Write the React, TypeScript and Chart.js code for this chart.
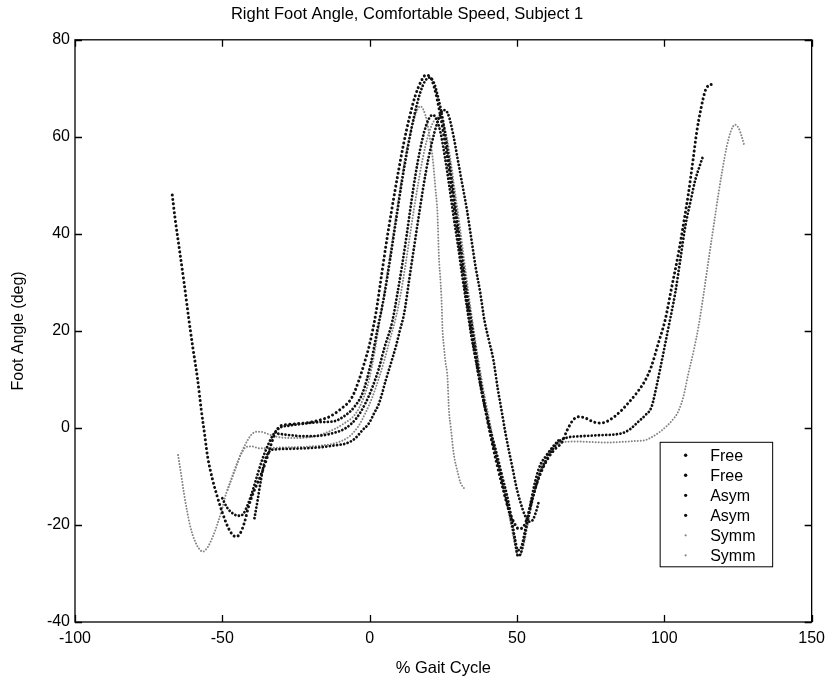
import React, { useEffect, useRef } from 'react';
import { Chart, registerables } from 'chart.js';

Chart.register(...registerables);

const TITLE = 'Right Foot Angle, Comfortable Speed, Subject 1';
const X_LABEL = '% Gait Cycle';
const Y_LABEL = 'Foot Angle (deg)';
const X_MIN = -100;
const X_MAX = 150;
const X_STEP = 50;
const Y_MIN = -40;
const Y_MAX = 80;
const Y_STEP = 20;

const SERIES_LABELS = ['Free', 'Free', 'Asym', 'Asym', 'Symm', 'Symm'];

const freeA: [number, number][] = [
  [-67, 48], [-66, 43], [-64.5, 36.5], [-63, 30], [-61.5, 23], [-60, 16.5], [-58.5, 10.5], [-57.2, 4],
  [-56, -1.4], [-55, -5.9], [-53.3, -10.7], [-51.7, -14.2], [-49.9, -17.6], [-48.2, -20.3], [-46.8, -21.8],
  [-45.5, -22.4], [-44, -21.8], [-42.5, -19.5], [-41, -16], [-39.1, -12.8], [-36.9, -9.7], [-35, -6.5],
  [-33.5, -3.5], [-32, -1], [-30.5, 0.3], [-28, 0.7], [-24, 0.9], [-20, 1.2], [-16, 1.8], [-13.7, 2.3],
  [-10, 3.8], [-6, 6.3], [-3.6, 9.9], [-1.5, 14], [-0.2, 16.8], [2.1, 23.6], [3.8, 30.5], [5.5, 37.5],
  [7.5, 45], [9.5, 52], [11.5, 58.5], [13.5, 64], [15.5, 68.5], [17.5, 71.5], [19, 72.7], [20.5, 72.4],
  [22, 70], [23.5, 66], [25, 61], [27, 53], [29, 44], [31, 35], [33, 26], [35, 18], [37, 11], [39, 4.5],
  [41, -1.5], [43, -7], [45, -12], [47, -16.5], [49, -19.5], [50.6, -20.8], [52, -20.5], [53.5, -18.5],
  [55, -15], [57, -11], [59, -8], [61, -5.8], [63, -4.3], [65.2, -3], [67, -0.5], [69, 1.6], [71, 2.3],
  [73, 2.1], [75, 1.5], [77.7, 1], [80, 1.2], [83, 2.3], [85.6, 3.7], [88, 5.3], [91, 7.5], [93.6, 9.9],
  [95.5, 12.5], [98, 17.5], [100.3, 22.3], [102.5, 29], [104.8, 36], [106.5, 42], [108.2, 48.4],
  [109.7, 55], [111, 61], [112.5, 66], [113.9, 69.5], [115, 70.6], [115.8, 70.8], [116.7, 70.4],
];

const freeB: [number, number][] = [
  [-50, -14.5], [-48.5, -16.3], [-46.5, -17.6], [-44.5, -18.1], [-43, -17.8], [-41.5, -16], [-40, -13.5],
  [-38.5, -10.5], [-36.5, -6.6], [-34.5, -3.5], [-32.5, -1.2], [-30.6, 0], [-27, 0.5], [-22, 0.9],
  [-17, 1.2], [-12.7, 1.3], [-8, 2.7], [-5, 4.5], [-2.4, 7.2], [0.4, 13.3], [2.6, 20.2], [4.9, 27.1],
  [7, 35], [9, 43], [11, 51], [13, 58], [15, 64], [17, 68.8], [18.8, 71.5], [20.3, 72.2], [21.7, 71.3],
  [23.3, 68], [25, 63], [27, 55], [29, 46], [31, 37], [33, 28], [35, 20], [37, 12], [39, 5], [41, -0.5],
  [43, -5], [45, -10], [47, -15], [48.5, -20], [49.5, -24], [50.3, -26.4], [51.3, -25.8], [52.5, -22.5],
  [54, -18], [56, -13], [58, -9], [60, -6.5], [62, -4.5], [64.2, -2.8], [67, -2], [72, -1.7], [78, -1.5],
  [85.6, -1.1], [88.5, -0.2], [91, 1.2], [93.5, 2.6], [95.7, 4.4], [97.5, 9], [99.2, 14], [101.5, 21],
  [103.7, 27.8], [105.5, 35], [107.1, 41.5], [109, 47], [110.5, 51.1], [112, 54], [113.3, 56.3],
];

const asymA: [number, number][] = [
  [-39.1, -18.6], [-38, -14.8], [-36.9, -10.7], [-36, -7.8], [-35, -5.8], [-33.5, -4.6], [-31.8, -4.4],
  [-27, -4.3], [-22, -4.2], [-17, -4], [-12, -3.6], [-8, -3.2], [-5, -2.2], [-2.5, -0.5], [-0.2, 1],
  [1.5, 3], [3.2, 5.1], [5.5, 9.9], [7.2, 13.3], [8.9, 16.8], [10.3, 20.2], [11.7, 23.6], [13.4, 30.5],
  [15, 37], [17, 45], [19, 52.5], [21, 58.5], [23, 63], [24.5, 65.2], [25.6, 65.5], [27, 64], [28.5, 60],
  [30, 55], [31.5, 50], [33, 45], [34.5, 39], [36, 33], [37.5, 28], [39, 22], [40.5, 18], [42, 14],
  [43.5, 8], [44.8, 3.5], [46.1, -1.1], [47.3, -4.8], [48.5, -8.3], [49.5, -11.4], [51, -15], [52.9, -18.3],
  [54.2, -19.3], [55.3, -19], [56.5, -17.2], [57.5, -15],
];

const asymB: [number, number][] = [
  [-31, -1.2], [-27, -1.5], [-22, -1.7], [-17, -1.6], [-12, -1], [-8, 0], [-4.5, 2], [-1.5, 5], [1, 8.5],
  [3, 12], [5, 16.5], [7.7, 22], [9.5, 28], [11, 33.5], [12.5, 39.5], [14, 46], [15.5, 52], [17, 57],
  [18.5, 61], [20, 63.6], [21.3, 64.5], [22.6, 63.8], [24, 61], [25.5, 56], [27, 50], [28.5, 43.5],
  [30, 37.5], [31.5, 31], [33, 25], [34.5, 19], [36, 14], [37.5, 9], [39, 4.5], [40.5, 0.5], [42, -3.5],
  [43.5, -7], [45, -11], [46.5, -15], [48, -19], [49.2, -22.5], [50.3, -25.2], [51.5, -24.5], [52.8, -21],
  [54.3, -16.5], [56.3, -10.7], [58, -7.5], [59.7, -5.9], [62, -4], [64.2, -2.5],
];

const symmA: [number, number][] = [
  [-65, -5.6], [-64, -9.5], [-63, -13.5], [-62, -17], [-60.8, -20.5], [-59.5, -23], [-58, -24.8],
  [-56.6, -25.5], [-55, -24.6], [-53.3, -22.5], [-51.6, -19.7], [-50, -16.5], [-48.7, -13.5], [-46.5, -10],
  [-45, -7.5], [-43.6, -5.2], [-41.4, -2.5], [-40, -1.3], [-38.5, -0.8], [-36.8, -0.8], [-35.2, -1.1],
  [-31.8, -1.8], [-25, -2.1], [-19.4, -1.8], [-14, -0.8], [-9, 0.8], [-4.7, 3], [-2.2, 6], [-0.2, 9.9],
  [1.5, 15], [3, 20.5], [4.5, 26], [6, 32], [7.5, 38], [9, 44], [10.5, 50], [12, 55.5], [13.5, 60],
  [15, 63.5], [16.2, 65.6], [17.2, 66.3], [18.3, 65.5], [19.5, 63], [20.5, 59.5], [21.5, 55], [22.3, 49.5],
  [23, 44.3], [23.5, 35.3], [24.1, 29.8], [24.5, 24.7], [24.7, 20.6], [25.2, 16.8], [25.8, 13.3],
  [26.4, 10.6], [26.9, 3.7], [27.5, 0.3], [28.6, -5.6], [29.7, -8.7], [30.9, -11.4], [32, -12.4],
];

const symmB: [number, number][] = [
  [-48.2, -12.8], [-47, -10.6], [-45.9, -8.7], [-44.5, -6.5], [-43.2, -4.9], [-41.9, -3.9], [-40, -3.8],
  [-37.4, -4.2], [-33, -4.1], [-28, -4], [-22, -3.9], [-16, -3.6], [-11, -3], [-7, -1.8], [-4, 0.2],
  [-1.5, 3], [1, 6.5], [3, 10], [5, 14], [7, 18.5], [9, 23], [10.5, 27.5], [12, 33], [13.5, 39], [15, 45],
  [16.5, 50.5], [18, 55.5], [19.5, 59.5], [21, 62.3], [22.5, 63.8], [23.7, 64], [25, 62.8], [26.3, 59.5],
  [27.5, 55], [29, 48.5], [30.5, 42], [32, 35], [33.5, 28], [35, 21.5], [36.5, 15.5], [38, 10], [39.5, 5],
  [41, 0.5], [42.5, -4], [44, -8.5], [45.5, -13], [47, -17], [48.3, -21], [49.4, -24.3], [50.4, -26.3],
  [51.4, -26], [52.5, -23.5], [53.8, -19.5], [55.2, -15], [56.5, -11.5], [58, -8.5], [59.7, -6.2], [62, -4.2],
  [65, -3], [70, -2.8], [75, -2.9], [80, -3], [85, -2.9], [90, -2.7], [93.6, -2.5], [96, -1.8], [98.5, -0.8],
  [101, 0.5], [103, 1.8], [104.8, 3.5], [106.5, 6.5], [108.2, 11.3], [110, 16], [111.6, 20.9], [113.3, 27.5],
  [115, 34.6], [116.7, 41.5], [118.4, 48.4], [119.8, 53.5], [121.2, 58], [122.6, 61.2], [124, 62.5],
  [125.3, 61.7], [126.3, 60], [127.1, 58.3],
];

const SERIES_DATA = [freeA, freeB, asymA, asymB, symmA, symmB];

const FONT = '"Liberation Sans", Arial, Helvetica, sans-serif';
const BLACK = '#101010';
const GRAY = '#858585';

type Style = { color: string; width: number; gap: number; marker: number };
const STYLES: Style[] = [
  { color: BLACK, width: 3.0, gap: 4.4, marker: 1.7 },
  { color: BLACK, width: 2.8, gap: 3.6, marker: 1.7 },
  { color: BLACK, width: 2.8, gap: 3.6, marker: 1.6 },
  { color: BLACK, width: 2.8, gap: 3.6, marker: 1.6 },
  { color: GRAY, width: 2.0, gap: 3.0, marker: 1.1 },
  { color: GRAY, width: 2.0, gap: 3.0, marker: 1.1 },
];

const framePlugin = {
  id: 'frame',
  afterDatasetsDraw(chart: any) {
    const { ctx, chartArea: a, scales } = chart;
    const xs = scales.x;
    const ys = scales.y;
    ctx.save();
    ctx.strokeStyle = '#000';
    ctx.lineWidth = 1.3;
    ctx.strokeRect(a.left, a.top, a.right - a.left, a.bottom - a.top);
    const tl = 7;
    ctx.beginPath();
    xs.ticks.forEach((t: any) => {
      const px = Math.round(xs.getPixelForValue(t.value)) + 0.5;
      ctx.moveTo(px, a.bottom);
      ctx.lineTo(px, a.bottom - tl);
      ctx.moveTo(px, a.top);
      ctx.lineTo(px, a.top + tl);
    });
    ys.ticks.forEach((t: any) => {
      const py = Math.round(ys.getPixelForValue(t.value)) + 0.5;
      ctx.moveTo(a.left, py);
      ctx.lineTo(a.left + tl, py);
      ctx.moveTo(a.right, py);
      ctx.lineTo(a.right - tl, py);
    });
    ctx.stroke();
    ctx.restore();
  },
};

const legendPlugin = {
  id: 'boxLegend',
  afterDraw(chart: any) {
    const { ctx, chartArea: a } = chart;
    const ds = chart.data.datasets;
    const left = a.right - 151.5;
    const top = a.top + 402.5;
    const w = 112.5;
    const rowH = 20;
    const h = 124.5;
    ctx.save();
    ctx.fillStyle = '#fff';
    ctx.fillRect(left, top, w, h);
    ctx.strokeStyle = '#000';
    ctx.lineWidth = 1;
    ctx.strokeRect(left, top, w, h);
    ctx.font = `16px ${FONT}`;
    ctx.textBaseline = 'middle';
    ctx.textAlign = 'left';
    ds.forEach((d: any, i: number) => {
      const cy = top + 13 + i * rowH;
      ctx.fillStyle = d.borderColor;
      ctx.beginPath();
      ctx.arc(left + 25.5, cy, d.markerSize, 0, Math.PI * 2);
      ctx.fill();
      ctx.fillStyle = '#000';
      ctx.fillText(d.label, left + 50, cy + 1);
    });
    ctx.restore();
  },
};

export default function App() {
  const ref = useRef<HTMLCanvasElement | null>(null);

  useEffect(() => {
    if (!ref.current) return;
    Chart.defaults.font.family = FONT;
    Chart.defaults.color = '#000';
    const datasets = SERIES_DATA.map((series, i) => ({
      label: SERIES_LABELS[i],
      data: series.map(([x, y]) => ({ x, y })),
      showLine: true,
      borderColor: STYLES[i].color,
      backgroundColor: STYLES[i].color,
      borderWidth: STYLES[i].width,
      borderDash: [0.01, STYLES[i].gap],
      borderCapStyle: 'round',
      borderJoinStyle: 'round',
      cubicInterpolationMode: 'monotone',
      pointRadius: 0,
      pointHoverRadius: 0,
      markerSize: STYLES[i].marker,
    }));
    const chart = new Chart(ref.current, {
      type: 'scatter',
      data: { datasets } as any,
      options: {
        animation: false,
        responsive: true,
        maintainAspectRatio: false,
        layout: { padding: { left: 0, right: 18, top: 0, bottom: 0 } },
        plugins: {
          legend: { display: false },
          tooltip: { enabled: false },
          title: {
            display: true,
            text: TITLE,
            color: '#000',
            font: { size: 16.5, weight: 'normal', family: FONT },
            padding: { top: 5, bottom: 15 },
          },
        },
        scales: {
          x: {
            type: 'linear',
            min: X_MIN,
            max: X_MAX,
            grid: { display: false, drawTicks: false },
            border: { display: false },
            ticks: { stepSize: X_STEP, font: { size: 16 }, color: '#000', padding: 7, maxRotation: 0 },
            title: { display: true, text: X_LABEL, font: { size: 16.5 }, color: '#000', padding: { top: 0, bottom: 5 } },
            afterFit: (s: any) => { s.height = 61; },
          },
          y: {
            type: 'linear',
            min: Y_MIN,
            max: Y_MAX,
            grid: { display: false, drawTicks: false },
            border: { display: false },
            ticks: { stepSize: Y_STEP, font: { size: 16 }, color: '#000', padding: 5 },
            title: { display: true, text: Y_LABEL, font: { size: 16 }, color: '#000', padding: { top: 9, bottom: 0 } },
            afterFit: (s: any) => { s.width = 75; },
          },
        },
      } as any,
      plugins: [framePlugin, legendPlugin],
    });
    return () => chart.destroy();
  }, []);

  return (
    <div style={{ position: 'fixed', left: 0, top: 0, width: 832, height: 683, background: '#fff' }}>
      <canvas ref={ref} />
    </div>
  );
}
